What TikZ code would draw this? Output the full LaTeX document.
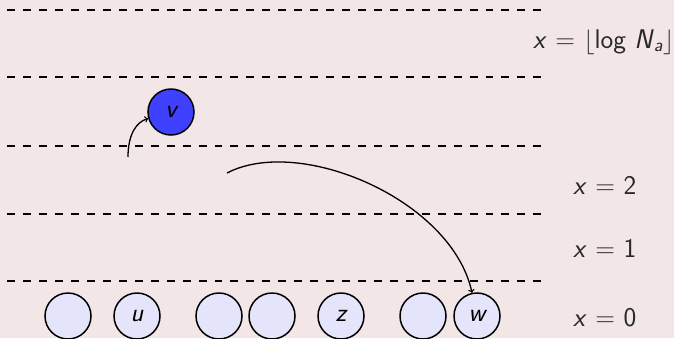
\documentclass[tikz,border=0pt]{standalone}
\usepackage{tikz}
\definecolor{bg}{RGB}{242,230,230}
\definecolor{nodefill}{RGB}{228,228,250}
\definecolor{hot}{RGB}{64,64,255}
\definecolor{ink}{RGB}{40,40,40}
\tikzset{
  level/.style={dash pattern=on 7.97pt off 7.97pt, line width=1.3pt},
  elem/.style={circle, draw, line width=1.5pt, fill=nodefill, minimum size=46pt,
    inner sep=0pt, font=\fontsize{26}{28}\selectfont\sffamily\itshape},
  lab/.style={anchor=base west, text=ink, inner sep=0pt,
    font=\fontsize{27}{30}\selectfont\sffamily},
  move/.style={->, line width=1.3pt}
}
\begin{document}
\begin{tikzpicture}[x=1pt, y=-1pt]
  \fill[bg] (0,0) rectangle (674,338);
  \useasboundingbox (0,0) rectangle (674,338);
  \clip (0,0) rectangle (674,338);

  % level separators
  \foreach \i/\y in {4/10, 3/77, 2/146, 1/214, 0/281} {
    \coordinate (l\i a) at (7.3,\y);
    \coordinate (l\i b) at (541.7,\y);
    \draw[level] (l\i a) -- (l\i b);
  }

  % level labels
  \node[lab] (top) at (533,48) {\textit{x} = $\lfloor$log \textit{N}\textsubscript{\textit{a}}$\rfloor$};
  \node[lab] (two) at (573,194) {\textit{x} = 2};
  \node[lab] (one) at (573,257) {\textit{x} = 1};
  \node[lab] (zero) at (573,326) {\textit{x} = 0};

  % elements on level 0
  \node[elem] (e1) at (68,316) {};
  \node[elem] (u)  at (137,316) {u};
  \node[elem] (e3) at (219,316) {};
  \node[elem] (e4) at (272,316) {};
  \node[elem] (z)  at (341,316) {z};
  \node[elem] (e6) at (423,316) {};
  \node[elem] (w)  at (477,316) {w};

  % promoted element
  \node[elem, fill=hot] (v) at (171,112) {v};

  % moves
  \coordinate (s1) at (128,157);
  \coordinate (s2) at (227,173);
  \draw[move] (s1) .. controls (128,135) and (136,122) .. (v);
  \draw[move] (s2) .. controls (300,135) and (452,200) .. (w);
\end{tikzpicture}
\end{document}
